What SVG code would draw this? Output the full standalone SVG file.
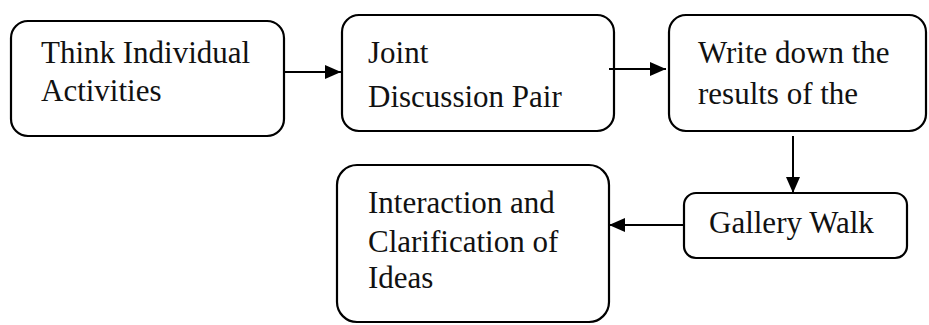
<svg xmlns="http://www.w3.org/2000/svg" width="929" height="325" viewBox="0 0 929 325">
<style>
.box{fill:#fff;stroke:#000;stroke-width:2.2}
.t{font-family:"Liberation Serif","Times New Roman",serif;font-size:31px;fill:#111}
.c{stroke:#000;stroke-width:2;fill:none}
</style>
<defs>
<marker id="ah" markerWidth="16" markerHeight="14" refX="16" refY="7" orient="auto" markerUnits="userSpaceOnUse">
<path d="M0,0 L16,7 L0,14 Z" fill="#000"/>
</marker>
</defs>
<rect width="929" height="325" fill="#fff"/>
<g id="n1">
<rect class="box" x="11" y="21" width="273" height="115" rx="17"/>
<text class="t" x="41" y="63">Think Individual</text>
<text class="t" x="41" y="101">Activities</text>
</g>
<g id="n2">
<rect class="box" x="342" y="15" width="272" height="116" rx="17"/>
<text class="t" x="368" y="63">Joint</text>
<text class="t" x="368" y="107">Discussion Pair</text>
</g>
<g id="n3">
<rect class="box" x="669" y="15" width="257" height="116" rx="17"/>
<text class="t" x="698" y="63">Write down the</text>
<text class="t" x="698" y="104">results of the</text>
</g>
<g id="n4">
<rect class="box" x="684" y="193" width="223" height="65" rx="12"/>
<text class="t" x="709" y="233">Gallery Walk</text>
</g>
<g id="n5">
<rect class="box" x="337" y="165" width="272" height="157" rx="20"/>
<text class="t" x="368" y="213">Interaction and</text>
<text class="t" x="368" y="252">Clarification of</text>
<text class="t" x="368" y="288">Ideas</text>
</g>
<g id="connectors">
<line class="c" x1="284" y1="72" x2="341" y2="72" marker-end="url(#ah)"/>
<line class="c" x1="609" y1="69" x2="666" y2="69" marker-end="url(#ah)"/>
<line class="c" x1="793" y1="136" x2="793" y2="193" marker-end="url(#ah)"/>
<line class="c" x1="684" y1="225" x2="609" y2="225" marker-end="url(#ah)"/>
</g>
</svg>
